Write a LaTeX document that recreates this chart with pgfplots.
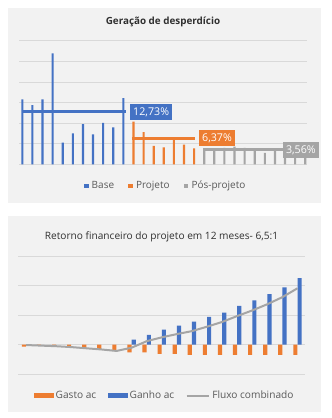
\documentclass[border=0pt]{standalone}
\usepackage{pgfplots}
\pgfplotsset{compat=1.18}
\usepackage{fontspec}
\setmainfont{Open Sans}
\definecolor{cblue}{HTML}{4472C4}
\definecolor{corange}{HTML}{ED7D31}
\definecolor{cgray}{HTML}{A5A5A5}
\definecolor{panel}{HTML}{F2F2F2}
\definecolor{gridc}{HTML}{D9D9D9}
\definecolor{txt}{HTML}{303030}
\definecolor{legtxt}{HTML}{595959}
\begin{document}
\begin{tikzpicture}[x=0.75pt,y=0.75pt]
\path[use as bounding box, fill=white] (0,0) rectangle (332,418);
\fill[panel] (8,215) rectangle (321,410);
\fill[panel] (8,6) rectangle (321,202);
\node[font=\bfseries\fontsize{7.4pt}{8pt}\selectfont, text=txt] at (163,396) {Geração de desperdício};
\node[font=\fontsize{7.6pt}{8pt}\selectfont, text=txt] at (161.5,180.7) {Retorno financeiro do projeto em 12 meses- 6,5:1};
\coordinate (A1) at (19.5,253.7);
\coordinate (A2) at (18.5,43.7);

% ---------------- Chart 1 ----------------
\begin{axis}[
  at={(A1)}, anchor=south west, scale only axis,
  width=215.6pt, height=92.5pt,
  xmin=-0.28, xmax=28.17, ymin=0, ymax=30,
  axis line style={draw=none}, major tick length=0pt,
  xtick=\empty, ytick={0,5,...,30}, yticklabel={\relax},
  ymajorgrids, grid style={gridc, line width=0.75pt},
  clip=false,
  legend columns=3,
  legend style={at={(0.5096,-0.176)}, anchor=center, draw=none, fill=none,
    font=\fontsize{7.5pt}{8pt}\selectfont, text=legtxt,
    /tikz/every odd column/.append style={column sep=0.4pt},
    /tikz/every even column/.append style={column sep=8.6pt}},
]
\addplot[ybar, bar width=1.6pt, bar shift=0pt, fill=cblue, draw=none,
  legend image code/.code={\fill[cblue] (0pt,-1.7pt) rectangle (3.4pt,1.7pt);}]
  coordinates {(0,15.8) (1,14.4) (2,15.8) (3,27.0) (4,5.3) (5,7.5) (6,9.8) (7,7.3) (8,10.1) (9,9.0) (10,16.1)};
\addlegendentry{Base}
\addplot[ybar, bar width=1.6pt, bar shift=0pt, fill=corange, draw=none,
  legend image code/.code={\fill[corange] (0pt,-1.7pt) rectangle (3.4pt,1.7pt);}]
  coordinates {(11,10.4) (12,7.8) (13,4.5) (14,4.1) (15,6.3) (16,4.8) (17,3.9)};
\addlegendentry{Projeto}
\addplot[ybar, bar width=1.6pt, bar shift=0pt, fill=cgray, draw=none,
  legend image code/.code={\fill[cgray] (0pt,-1.7pt) rectangle (3.4pt,1.7pt);}]
  coordinates {(18,3.9) (19,3.2) (20,4.0) (21,4.3) (22,4.0) (23,3.3) (24,2.8) (25,3.3) (26,3.3) (27,3.3) (28,3.3)};
\addlegendentry{Pós-projeto}
\addplot[cblue, line width=2.2pt, sharp plot, forget plot] coordinates {(-0.05,12.73) (10.3,12.73)};
\addplot[corange, line width=2.2pt, sharp plot, forget plot] coordinates {(10.85,6.37) (17.1,6.37)};
\addplot[cgray, line width=2.2pt, sharp plot, forget plot] coordinates {(17.9,3.56) (26.5,3.56)};
\node[fill=cblue, text=white, font=\fontsize{8pt}{9pt}\selectfont, inner xsep=2.2pt, inner ysep=0pt, minimum height=11.6pt, anchor=west] at (axis cs:10.66,12.73) {12,73\%};
\node[fill=corange, text=white, font=\fontsize{8pt}{9pt}\selectfont, inner xsep=2.2pt, inner ysep=0pt, minimum height=12pt, anchor=west] at (axis cs:17.48,6.37) {6,37\%};
\node[fill=cgray, text=white, font=\fontsize{8pt}{9pt}\selectfont, inner xsep=2.2pt, inner ysep=0pt, minimum height=12pt, anchor=west] at (axis cs:25.78,3.5) {3,56\%};
\end{axis}

% ---------------- Chart 2 ----------------
\begin{axis}[
  at={(A2)}, anchor=south west, scale only axis,
  width=214.9pt, height=88.7pt,
  xmin=-0.5, xmax=18.5, ymin=-1, ymax=3,
  axis line style={draw=none}, major tick length=0pt,
  xtick=\empty, ytick={-1,0,1,2,3}, yticklabel={\relax},
  ymajorgrids, grid style={gridc, line width=0.75pt},
  clip=false,
  legend columns=3,
  legend style={at={(0.511,-0.181)}, anchor=center, draw=none, fill=none,
    font=\fontsize{7.6pt}{8pt}\selectfont, text=legtxt,
    /tikz/every odd column/.append style={column sep=-0.5pt},
    /tikz/every even column/.append style={column sep=6.5pt}},
]
\addplot[ybar, bar width=3.1pt, bar shift=-1.6pt, fill=corange, draw=none,
  legend image code/.code={\fill[corange] (0pt,-1.7pt) rectangle (15pt,1.7pt);}]
  coordinates {(0,-0.06) (1,-0.03) (2,-0.06) (3,-0.11) (4,-0.14) (5,-0.15) (6,-0.20) (7,-0.26) (8,-0.26) (9,-0.31) (10,-0.31) (11,-0.34) (12,-0.34) (13,-0.34) (14,-0.34) (15,-0.34) (16,-0.34) (17,-0.34) (18,-0.34)};
\addlegendentry{Gasto ac}
\addplot[ybar, bar width=3.1pt, bar shift=1.6pt, fill=cblue, draw=none,
  legend image code/.code={\fill[cblue] (0pt,-1.7pt) rectangle (15pt,1.7pt);}]
  coordinates {(7,0.17) (8,0.33) (9,0.51) (10,0.65) (11,0.78) (12,0.94) (13,1.09) (14,1.31) (15,1.50) (16,1.71) (17,1.94) (18,2.25)};
\addlegendentry{Ganho ac}
\addplot[cgray, line width=1.5pt, sharp plot,
  legend image code/.code={\draw[cgray, line width=1.5pt] (0pt,0pt) -- (17pt,0pt);}]
  coordinates {(0,-0.01) (1,-0.03) (2,-0.05) (3,-0.08) (4,-0.12) (5,-0.16) (6,-0.21) (7,-0.10) (8,0.12) (9,0.25) (10,0.36) (11,0.46) (12,0.61) (13,0.77) (14,0.97) (15,1.16) (16,1.37) (17,1.61) (18,1.91)};
\addlegendentry{Fluxo combinado}
\end{axis}
\end{tikzpicture}
\end{document}
